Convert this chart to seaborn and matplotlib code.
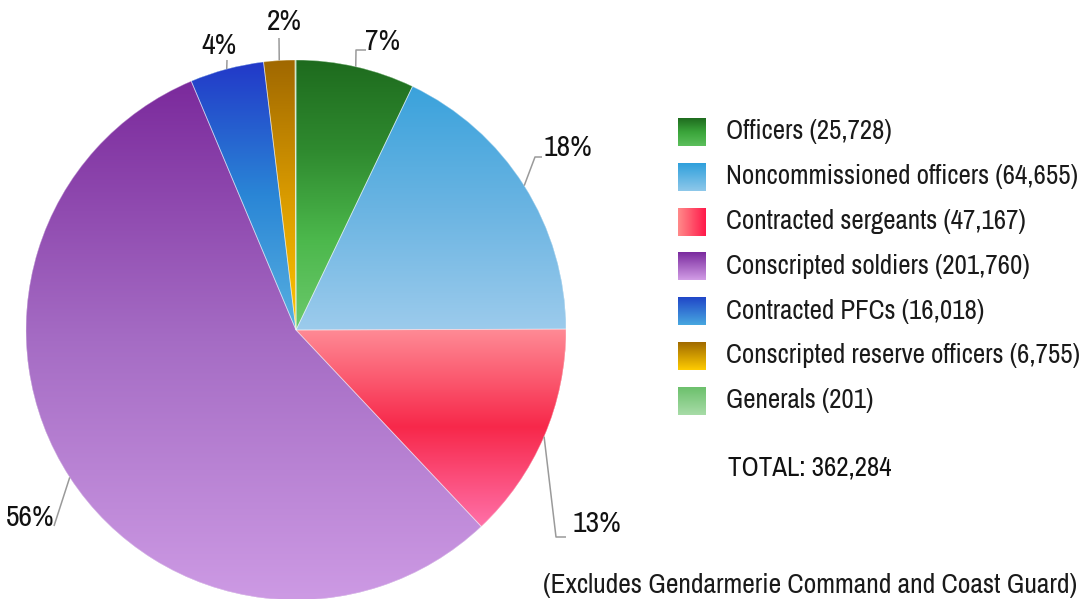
import numpy as np
import matplotlib
matplotlib.use("Agg")
import matplotlib.pyplot as plt
import seaborn as sns
from matplotlib.colors import LinearSegmentedColormap

# --- Data ---
categories = ["Officers", "Noncommissioned officers", "Contracted sergeants",
              "Conscripted soldiers", "Contracted PFCs",
              "Conscripted reserve officers", "Generals"]
counts = [25728, 64655, 47167, 201760, 16018, 6755, 201]
pct_labels = ["7%", "18%", "13%", "56%", "4%", "2%", ""]
total_label = "TOTAL: 362,284"
note = "(Excludes Gendarmerie Command and Coast Guard)"

# gradient stops, top -> bottom
slice_grad = [
    ["#1e6b1e", "#2f8a2f", "#4cb84c", "#6cc96c"],
    ["#3aa2dc", "#6ab4e2", "#9ccbec"],
    ["#ff8c96", "#f7284a", "#ff70a8"],
    ["#7b2a9c", "#a56cc4", "#cd9ae4"],
    ["#2238c8", "#2a86d6", "#58b0e0"],
    ["#a06800", "#d89a00", "#ffc400"],
    ["#6cc06c", "#a8dca8"],
]
legend_grad = [
    ["#1f6b1f", "#3aa53a", "#5cbf5c"],
    ["#2fa0dc", "#8ec8ea"],
    ["#ff8a8a", "#ff1a4a"],
    ["#7a2a9e", "#d29de6"],
    ["#2046c8", "#48a8e0"],
    ["#a06a00", "#ffcc00"],
    ["#6cc06c", "#a8dca8"],
]

sns.set_theme(style="white")
plt.rcParams['font.family'] = ['Archivo Narrow', 'DejaVu Sans']

W, H = 1081, 599
fig = plt.figure(figsize=(W / 100, H / 100), dpi=100)
ax = fig.add_axes([0, 0, 1, 1])


def Y(py):
    return H - py


def fix_axes():
    ax.set_xlim(0, W)
    ax.set_ylim(0, H)
    ax.axis("off")


cx, cy, R = 296, Y(330), 270
base = sns.color_palette([g[len(g) // 2] for g in slice_grad])
wedges, _ = ax.pie(counts, colors=base, startangle=90, counterclock=False,
                   center=(cx, cy), radius=R, frame=True,
                   wedgeprops=dict(linewidth=0))
fix_axes()


def grad_img(stops, extent, horizontal=False, zorder=2):
    cmap = LinearSegmentedColormap.from_list("g", stops)
    arr = np.linspace(0, 1, 256)
    arr = arr[None, :] if horizontal else arr[:, None]
    return ax.imshow(arr, cmap=cmap, extent=extent, origin="upper",
                     aspect="auto", interpolation="bilinear", zorder=zorder)


for w, stops in zip(wedges, slice_grad):
    bb = w.get_path().get_extents()
    im = grad_img(stops, [bb.x0, bb.x1, bb.y0, bb.y1])
    im.set_clip_path(w)

# thin separators between slices
sep, _ = ax.pie(counts, colors=["none"] * len(counts), startangle=90,
                counterclock=False, center=(cx, cy), radius=R, frame=True,
                wedgeprops=dict(linewidth=0.6, edgecolor=(1, 1, 1, 0.45)))
for s in sep:
    s.set_zorder(3)
fix_axes()

# fit text sizes to the widths seen in the reference
fig.canvas.draw()
renderer = fig.canvas.get_renderer()


def fit_size(txt, target, **kw):
    probe = ax.text(0, 0, txt, fontsize=20, **kw)
    w_px = probe.get_window_extent(renderer).width
    probe.remove()
    return 20 * target / w_px


fs = fit_size(f"{categories[1]} ({counts[1]:,})", 351)
fs_note = fit_size(note, 534)
fs_pct = fs * 1.1

# percent labels with leader lines (text pos, leader points) in pixels
label_layout = [
    dict(txt=(383, 42), pts=[(356, 50), (366, 50)]),
    dict(txt=(568, 148), pts=[(535, 157), (542, 157)]),
    dict(txt=(597, 523), pts=[(556, 537), (566, 537)]),
    dict(txt=(30, 518), pts=[(54, 526)]),
    dict(txt=(219, 46), pts=[(227, 60)]),
    dict(txt=(284, 22), pts=[(279, 38)]),
]
fracs = np.array(counts) / np.sum(counts)
starts = 90 - 360 * np.concatenate([[0], np.cumsum(fracs)[:-1]])
mids = starts - 180 * fracs
for i, lay in enumerate(label_layout):
    a = np.deg2rad(mids[i])
    ex, ey = cx + R * np.cos(a), cy + R * np.sin(a)
    xs = [ex] + [p[0] for p in lay["pts"]]
    ys = [ey] + [Y(p[1]) for p in lay["pts"]]
    ax.plot(xs, ys, color="#9a9a9a", lw=1.1, zorder=4, solid_capstyle="butt")
    ax.text(lay["txt"][0], Y(lay["txt"][1]), pct_labels[i], fontsize=fs_pct,
            ha="center", va="center", color="#111111", zorder=5)

# legend
for i, (name, n) in enumerate(zip(categories, counts)):
    yc = 132 + i * 44.8
    grad_img(legend_grad[i], [678, 706, Y(yc + 14), Y(yc - 14)],
             horizontal=(i == 2))
    ax.text(726, Y(yc), f"{name} ({n:,})", fontsize=fs, va="center",
            ha="left", color="#1a1a1a")

ax.text(728, Y(468), total_label, fontsize=fs, va="center", ha="left",
        color="#111111", fontweight="semibold")
ax.text(543, Y(586), note, fontsize=fs_note, va="center", ha="left",
        color="#1a1a1a")
fix_axes()

fig.savefig("out.png", dpi=100)
